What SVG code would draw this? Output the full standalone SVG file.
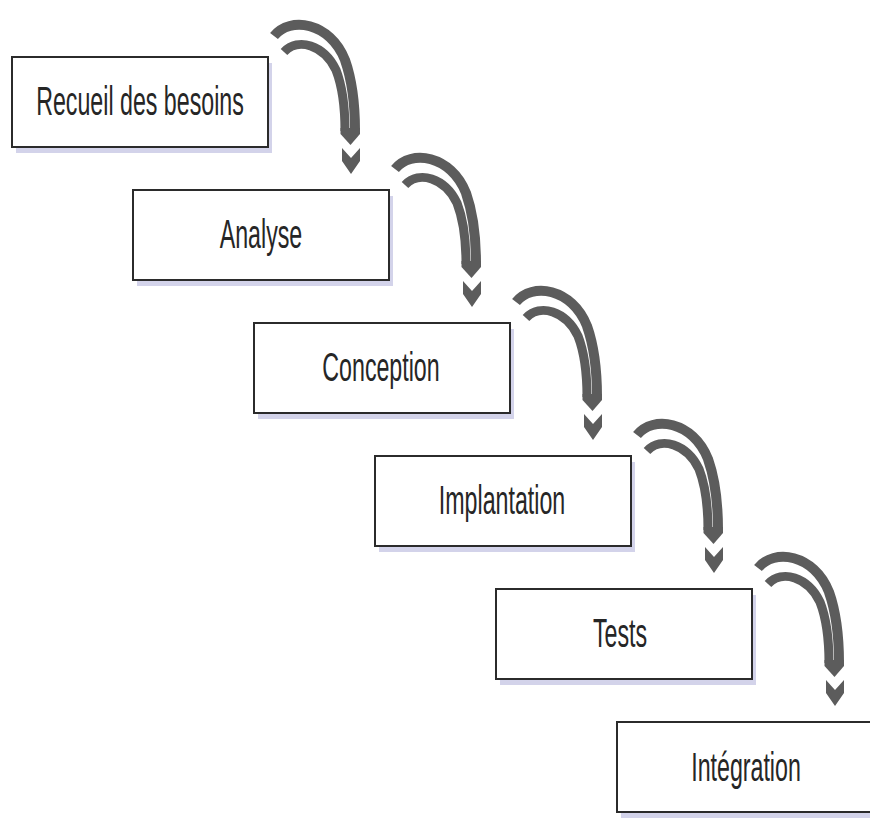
<svg xmlns="http://www.w3.org/2000/svg" xmlns:xlink="http://www.w3.org/1999/xlink" width="870" height="818" viewBox="0 0 870 818">
  <style>
    .shadow { fill: #d3d3ea; }
    .box { fill: #ffffff; stroke: #2b2b2b; stroke-width: 2; }
    .lbl { font-family: "Liberation Sans", Arial, sans-serif; font-size: 40px; fill: #262626; text-anchor: middle; }
    .band { fill: none; stroke: #5c5c5c; stroke-width: 10; stroke-linecap: butt; }
    .head { fill: #5c5c5c; }
  </style>
  <defs>
    <!-- curved two-band arrow, drawn once and reused between steps -->
    <g id="stepArrow">
      <path class="band" d="M274,36 C290,16 330,22 345,60 C352,80 355,105 355,131"/>
      <path class="band" style="stroke-width:9" d="M284,52 C298,37 324,45 336,70 C343,88 345,110 345,131"/>
      <polygon class="head" points="340.5,128 360,128 360,134 350.5,145 340.5,134"/>
      <polygon class="head" points="342,148 351,158 360,148 360,161 351,174 342,161"/>
    </g>
  </defs>

  <rect width="870" height="818" fill="#ffffff"/>

  <g id="connectors">
    <use xlink:href="#stepArrow"/>
    <use xlink:href="#stepArrow" transform="translate(121,133)"/>
    <use xlink:href="#stepArrow" transform="translate(242,266)"/>
    <use xlink:href="#stepArrow" transform="translate(363,399)"/>
    <use xlink:href="#stepArrow" transform="translate(484,532)"/>
  </g>

  <g id="recueil">
    <rect class="shadow" x="16" y="63" width="256" height="90"/>
    <rect class="box" x="12" y="57" width="256" height="90"/>
    <text class="lbl" transform="translate(140,115) scale(0.58,1)">Recueil des besoins</text>
  </g>

  <g id="analyse">
    <rect class="shadow" x="137" y="196" width="256" height="90"/>
    <rect class="box" x="133" y="190" width="256" height="90"/>
    <text class="lbl" transform="translate(261,248) scale(0.58,1)">Analyse</text>
  </g>

  <g id="conception">
    <rect class="shadow" x="258" y="329" width="256" height="90"/>
    <rect class="box" x="254" y="323" width="256" height="90"/>
    <text class="lbl" transform="translate(381,381) scale(0.58,1)">Conception</text>
  </g>

  <g id="implantation">
    <rect class="shadow" x="379" y="462" width="256" height="90"/>
    <rect class="box" x="375" y="456" width="256" height="90"/>
    <text class="lbl" transform="translate(502,514) scale(0.58,1)">Implantation</text>
  </g>

  <g id="tests">
    <rect class="shadow" x="500" y="595" width="256" height="90"/>
    <rect class="box" x="496" y="589" width="256" height="90"/>
    <text class="lbl" transform="translate(620,647) scale(0.58,1)">Tests</text>
  </g>

  <g id="integration">
    <rect class="shadow" x="621" y="728" width="256" height="90"/>
    <rect class="box" x="617" y="722" width="256" height="90"/>
    <text class="lbl" transform="translate(746,781) scale(0.58,1)">Intégration</text>
  </g>
</svg>
